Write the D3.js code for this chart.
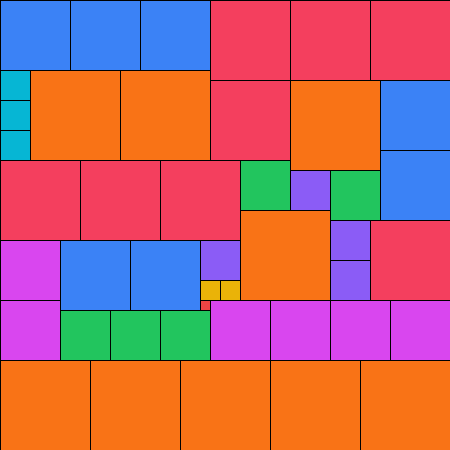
<!DOCTYPE html>
<html>
<head>
<meta charset="utf-8">
<script src="https://cdn.jsdelivr.net/npm/d3@7"></script>
<style>
  html, body { margin: 0; padding: 0; background: #fff; }
  svg { display: block; }
</style>
</head>
<body>
<div id="chart"></div>
<script>
// partridge tiling: n squares of side n, for n = 1..9, in a 45x45 grid
const gridSize = 45;
const sideLengths = [1, 2, 3, 4, 5, 6, 7, 8, 9];
const sideColors = ["#ef4444", "#eab308", "#06b6d4", "#8b5cf6", "#22c55e",
                    "#d946ef", "#3b82f6", "#f43f5e", "#f97316"];

// [col, row] of each square's top-left corner, grid units
const squares1 = [[20, 30]];
const squares2 = [[20, 28], [22, 28]];
const squares3 = [[0, 7], [0, 10], [0, 13]];
const squares4 = [[29, 17], [33, 22], [33, 26], [20, 24]];
const squares5 = [[24, 16], [33, 17], [6, 31], [11, 31], [16, 31]];
const squares6 = [[0, 24], [0, 30], [21, 30], [27, 30], [33, 30], [39, 30]];
const squares7 = [[0, 0], [7, 0], [14, 0], [38, 8], [38, 15], [6, 24], [13, 24]];
const squares8 = [[21, 0], [29, 0], [37, 0], [21, 8], [0, 16], [8, 16], [16, 16], [37, 22]];
const squares9 = [[3, 7], [12, 7], [29, 8], [24, 21], [0, 36], [9, 36], [18, 36], [27, 36], [36, 36]];

const placements = [squares1, squares2, squares3, squares4, squares5,
                    squares6, squares7, squares8, squares9];

const width = 450, height = 450;

let tiles = [];
sideLengths.forEach((n, i) => {
    placements[i].forEach(p => tiles.push({size: n, col: p[0], row: p[1]}));
});

const x = d3.scaleLinear().domain([0, gridSize]).range([0, width]);
const y = d3.scaleLinear().domain([0, gridSize]).range([0, height]);
const color = d3.scaleOrdinal().domain(sideLengths).range(sideColors);

const svg = d3.select("#chart").append("svg")
    .attr("width", width)
    .attr("height", height);

svg.append("g")
    .selectAll("rect")
    .data(tiles)
    .join("rect")
    .attr("x", d => x(d.col) + 0.5)
    .attr("y", d => y(d.row) + 0.5)
    .attr("width", d => x(d.size) - x(0))
    .attr("height", d => y(d.size) - y(0))
    .attr("fill", d => color(d.size))
    .attr("stroke", "#000")
    .attr("stroke-width", 1);
</script>
</body>
</html>
